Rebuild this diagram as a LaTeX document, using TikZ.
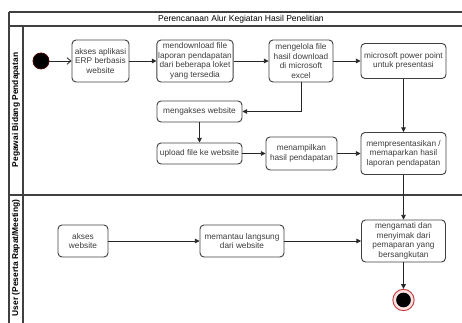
\documentclass[tikz,border=0pt]{standalone}
\usepackage{fontspec}
\setmainfont{Liberation Sans}
\usetikzlibrary{arrows.meta,shapes}
\definecolor{garis}{RGB}{64,64,64}
\definecolor{teks}{RGB}{60,60,60}
\definecolor{akhir}{RGB}{200,60,60}
\begin{document}
\begin{tikzpicture}[x=0.75pt,y=-0.75pt,
	aktivitas/.style={draw=garis,line width=0.7pt,rounded corners=3pt,align=center,
		font=\fontsize{6.2}{7.2}\selectfont,text=teks,inner sep=1pt},
	alur/.style={draw=black!85,line width=0.6pt,-{Triangle[length=3.5pt,width=3.5pt]}},
	awal/.style={draw=black!85,line width=0.6pt,-{Straight Barb[length=3pt,width=5pt]}},
	lajur/.style={font=\fontsize{6.3}{7}\bfseries\selectfont,rotate=90}]
\useasboundingbox (0,0) rectangle (462,323);
\draw [garis,line width=0.8pt] (9,12)-- (462,12);
\draw [garis,line width=0.8pt] (9,26)-- (462,26);
\draw [garis,line width=0.8pt] (9,12)-- (9,323);
\draw [garis,line width=0.8pt] (23,26)-- (23,323);
\draw [garis,line width=0.8pt] (9,195)-- (462,195);
\node (judul) at (241,19) {\fontsize{6.4}{7}\selectfont Perencanaan Alur Kegiatan Hasil Penelitian};
\node (lajurA) [lajur] at (16,110) {Pegawai Bidang Pendapatan};
\node (lajurB) [lajur] at (16,258) {User (Peserta Rapat/Meeting)};
\node (mulai) [circle,fill=black,draw={rgb,255:red,70;green,0;blue,0},line width=0.6pt,minimum size=12pt,inner sep=0pt] at (41,61) {};
\node (a1) [aktivitas,minimum width=42.75pt,minimum height=31.5pt] at (100.5,61) {akses aplikasi\\ERP berbasis\\website};
\node (a2) [aktivitas,minimum width=57pt,minimum height=31.5pt] at (195,61) {mendownload file\\laporan pendapatan\\dari beberapa loket\\yang tersedia};
\node (a3) [aktivitas,minimum width=48pt,minimum height=31.5pt] at (301,61) {mengelola file\\hasil download\\di microsoft\\excel};
\node (a4) [aktivitas,minimum width=63.75pt,minimum height=26.25pt] at (403.5,61) {microsoft power point\\untuk presentasi};
\node (a5) [aktivitas,minimum width=63.75pt,minimum height=15.75pt] at (199.5,111.5) {mengakses website};
\node (a6) [aktivitas,minimum width=63.75pt,minimum height=15.75pt] at (199.5,153.5) {upload file ke website};
\node (a7) [aktivitas,minimum width=53.25pt,minimum height=24.75pt] at (301.5,153.5) {menampilkan\\hasil pendapatan};
\node (a8) [aktivitas,minimum width=63.75pt,minimum height=31.5pt] at (403.5,153.5) {mempresentasikan /\\memaparkan hasil\\laporan pendapatan};
\node (b1) [aktivitas,minimum width=37.5pt,minimum height=24pt] at (83,241) {akses\\website};
\node (b2) [aktivitas,minimum width=63pt,minimum height=24pt] at (242,241) {memantau langsung\\dari website};
\node (b3) [aktivitas,minimum width=63pt,minimum height=31.5pt] at (403.5,241) {mengamati dan\\menyimak dari\\pemaparan yang\\bersangkutan};
\node (selesai) [circle,fill={rgb,255:red,250;green,225;blue,225},draw=akhir,line width=0.7pt,minimum size=16pt,inner sep=0pt] at (403.5,300) {};
\fill [black] (selesai.center) circle (5.5pt);
\draw [awal] (mulai)-- (a1);
\draw [alur] (a1)-- (a2);
\draw [alur] (a2)-- (a3);
\draw [alur] (a3)-- (a4);
\draw [alur] (a3.south) |- (a5.east);
\draw [alur] (a5)-- (a6);
\draw [alur] (a6)-- (a7);
\draw [alur] (a7)-- (a8);
\draw [alur] (a4)-- (a8);
\draw [alur] (a8)-- (b3);
\draw [alur] (b1)-- (b2);
\draw [alur] (b2)-- (b3);
\draw [alur] (b3)-- (selesai);
\end{tikzpicture}
\end{document}
